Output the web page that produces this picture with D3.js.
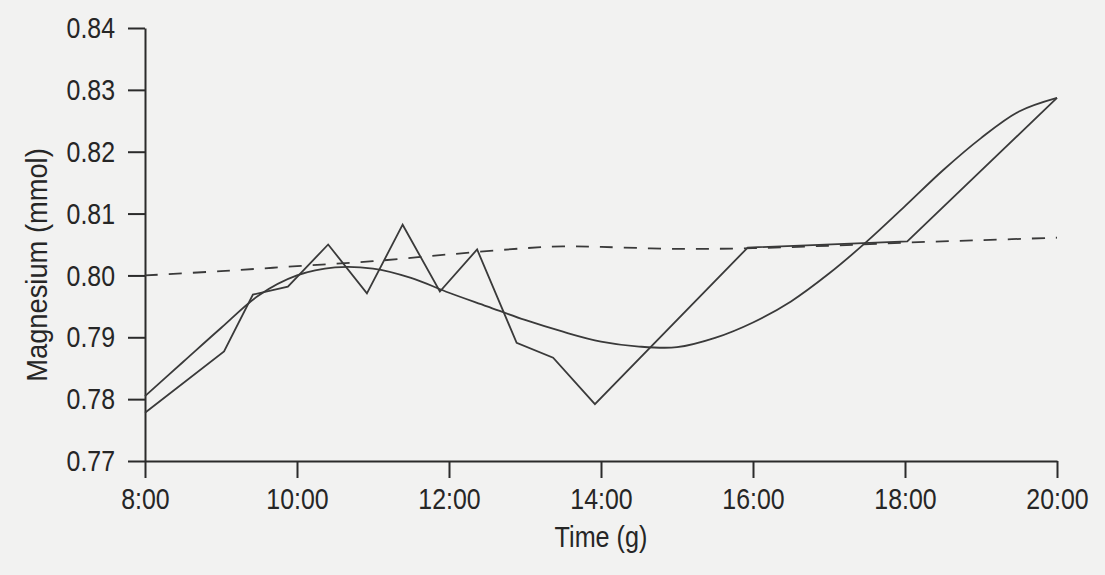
<!DOCTYPE html>
<html>
<head>
<meta charset="utf-8">
<script src="https://cdn.jsdelivr.net/npm/d3@7"></script>
<style>
  html, body { margin: 0; padding: 0; background: #f2f2f1; }
  svg { display: block; }
  text { font-family: "Liberation Sans", Arial, sans-serif; fill: #262626; }
</style>
</head>
<body>
<svg id="chart" width="1105" height="575"></svg>
<script>
// ---- data (hours as decimals, values in mmol) ----
const xTickValues = [8, 10, 12, 14, 16, 18, 20];
const xTickLabels = ["8:00", "10:00", "12:00", "14:00", "16:00", "18:00", "20:00"];
const yTickValues = [0.77, 0.78, 0.79, 0.80, 0.81, 0.82, 0.83, 0.84];

// jagged measured series
const measuredTimes  = [8.0, 9.04, 9.42, 9.88, 10.41, 10.92, 11.39, 11.88, 12.37, 12.89, 13.37, 13.92, 15.93, 18.03, 20.0];
const measuredValues = [0.7778, 0.7877, 0.7969, 0.7982, 0.8050, 0.7971, 0.8082, 0.7974, 0.8042, 0.7891, 0.7867, 0.7792, 0.8045, 0.8055, 0.8287];

// smooth fitted curve
const fitTimes  = [8.0, 8.5, 9.0, 9.5, 10.0, 10.5, 11.0, 11.5, 12.0, 12.5, 13.0, 13.5, 14.0, 14.5, 15.0, 15.5, 16.0, 16.5, 17.0, 17.5, 18.0, 18.5, 19.0, 19.5, 20.0];
const fitValues = [0.7805, 0.7860, 0.7915, 0.7968, 0.8000, 0.8013, 0.8011, 0.7996, 0.7972, 0.7950, 0.7928, 0.7909, 0.7893, 0.7885, 0.7884, 0.7899, 0.7924, 0.7958, 0.8003, 0.8055, 0.8112, 0.8170, 0.8222, 0.8265, 0.8287];

// dashed reference series
const refTimes  = [8, 9, 10, 11, 12, 13, 13.5, 14, 15, 16, 17, 18, 19, 20];
const refValues = [0.8000, 0.8007, 0.8015, 0.8023, 0.8034, 0.8044, 0.8047, 0.8046, 0.8043, 0.8044, 0.8048, 0.8053, 0.8057, 0.8061];

const xLabel = "Time (g)";
const yLabel = "Magnesium (mmol)";

// ---- drawing ----
const svg = d3.select("#chart");
const x = d3.scaleLinear().domain([8, 20]).range([145, 1057]);
const y = d3.scaleLinear().domain([0.77, 0.84]).range([461, 28]);

const ink = "#2b2b2b";
const lineInk = "#3a3a3a";
const narrow = 0.83;

// axes
const yAxis = d3.axisLeft(y).tickValues(yTickValues).tickFormat(d3.format(".2f"))
  .tickSize(17).tickSizeOuter(0).tickPadding(13);
const xAxis = d3.axisBottom(x).tickValues(xTickValues)
  .tickFormat((d, i) => xTickLabels[i]).tickSize(17).tickSizeOuter(0).tickPadding(10);

const gx = svg.append("g").attr("transform", `translate(0,${y(0.77)})`).call(xAxis);
const gy = svg.append("g").attr("transform", `translate(${x(8)},0)`).call(yAxis);

[gx, gy].forEach(g => {
  g.attr("font-family", null).attr("font-size", null);
  g.selectAll("path.domain").attr("stroke", ink).attr("stroke-width", 2);
  g.selectAll(".tick line").attr("stroke", ink).attr("stroke-width", 2);
  g.selectAll(".tick text").attr("font-size", 30).attr("fill", "#262626")
    .attr("transform", `scale(${narrow},1)`);
});
gy.selectAll(".tick text").attr("x", -30 / narrow);

// line generators
const lineLinear = d3.line().x(d => x(d[0])).y(d => y(d[1]));
const lineSmooth = d3.line().x(d => x(d[0])).y(d => y(d[1])).curve(d3.curveCatmullRom.alpha(0.5));

svg.append("path")
  .datum(refTimes.map((t, i) => [t, refValues[i]]))
  .attr("d", lineSmooth)
  .attr("fill", "none").attr("stroke", lineInk).attr("stroke-width", 1.8)
  .attr("stroke-dasharray", "13,11");

svg.append("path")
  .datum(fitTimes.map((t, i) => [t, fitValues[i]]))
  .attr("d", lineSmooth)
  .attr("fill", "none").attr("stroke", lineInk).attr("stroke-width", 1.8);

svg.append("path")
  .datum(measuredTimes.map((t, i) => [t, measuredValues[i]]))
  .attr("d", lineLinear)
  .attr("fill", "none").attr("stroke", lineInk).attr("stroke-width", 1.8)
  .attr("stroke-linejoin", "miter");

// axis titles
svg.append("text")
  .attr("transform", `translate(${(x(8) + x(20)) / 2},547) scale(0.84,1)`)
  .attr("text-anchor", "middle").attr("font-size", 30)
  .text(xLabel);

svg.append("text")
  .attr("transform", `translate(47,265) rotate(-90) scale(0.91,1)`)
  .attr("text-anchor", "middle").attr("font-size", 30)
  .text(yLabel);
</script>
</body>
</html>
